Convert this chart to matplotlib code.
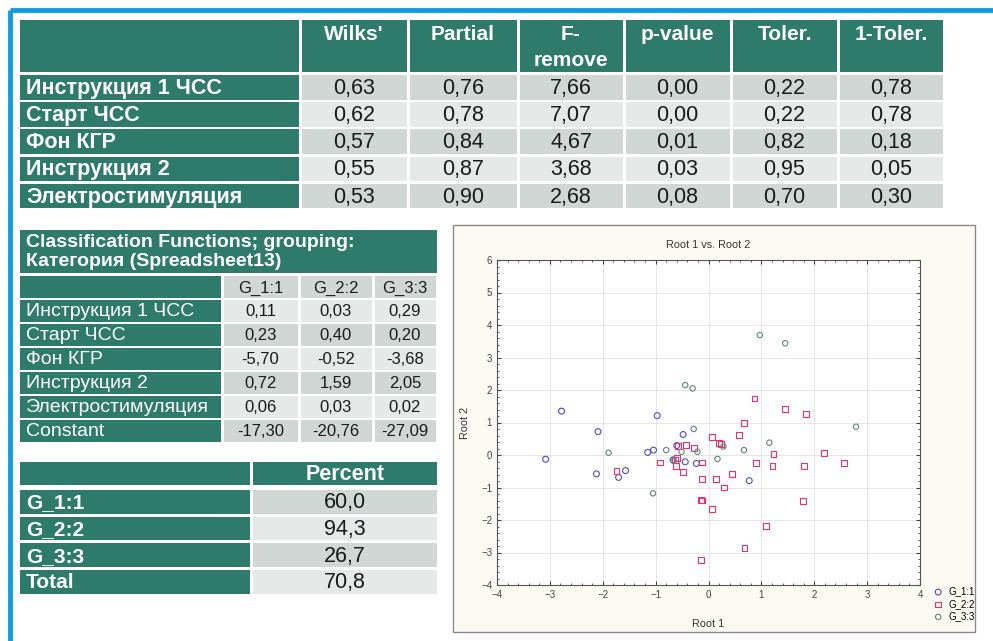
import matplotlib
matplotlib.use('Agg')
import matplotlib.pyplot as plt
from matplotlib.patches import Rectangle

plt.rcParams['font.family'] = ['Liberation Sans', 'DejaVu Sans']

# ---- data ----
t1_cols = ["Wilks'", "Partial", "F-\nremove", "p-value", "Toler.", "1-Toler."]
t1_rows = ["Инструкция 1 ЧСС", "Старт ЧСС", "Фон КГР", "Инструкция 2", "Электростимуляция"]
t1_vals = [["0,63", "0,76", "7,66", "0,00", "0,22", "0,78"],
           ["0,62", "0,78", "7,07", "0,00", "0,22", "0,78"],
           ["0,57", "0,84", "4,67", "0,01", "0,82", "0,18"],
           ["0,55", "0,87", "3,68", "0,03", "0,95", "0,05"],
           ["0,53", "0,90", "2,68", "0,08", "0,70", "0,30"]]

t2_title = "Classification Functions; grouping:\nКатегория (Spreadsheet13)"
t2_cols = ["G_1:1", "G_2:2", "G_3:3"]
t2_rows = ["Инструкция 1 ЧСС", "Старт ЧСС", "Фон КГР", "Инструкция 2", "Электростимуляция", "Constant"]
t2_vals = [["0,11", "0,03", "0,29"],
           ["0,23", "0,40", "0,20"],
           ["-5,70", "-0,52", "-3,68"],
           ["0,72", "1,59", "2,05"],
           ["0,06", "0,03", "0,02"],
           ["-17,30", "-20,76", "-27,09"]]

t3_col = "Percent"
t3_rows = ["G_1:1", "G_2:2", "G_3:3", "Total"]
t3_vals = ["60,0", "94,3", "26,7", "70,8"]

g1_x = [-2.78, -0.97, -2.09, -3.08, -2.12, -1.70, -1.57, -1.15, -1.04, -0.48, -0.44, -0.23, 0.77, -0.60, -0.67]
g1_y = [1.35, 1.21, 0.72, -0.13, -0.58, -0.69, -0.48, 0.08, 0.15, 0.63, -0.21, -0.26, -0.79, 0.29, -0.15]

g2_x = [-1.74, -0.92, -0.63, -0.61, -0.58, -0.43, -0.48, -0.28, -0.13, -0.12, -0.13, -0.14, 0.07, 0.07, 0.15,
        0.20, 0.23, 0.30, 0.87, 1.45, 1.84, 0.67, 0.57, 0.90, 1.21, 1.23, 1.81, 2.19, 2.57, 0.44, 1.78, 1.09,
        0.68, -0.14, -0.60]
g2_y = [-0.49, -0.23, -0.15, -0.33, 0.28, 0.31, -0.53, 0.22, -0.23, -0.75, -1.40, -3.23, 0.56, -1.67, -0.75,
        0.38, 0.33, -1.00, 1.74, 1.41, 1.26, 0.98, 0.62, -0.24, -0.33, 0.02, -0.34, 0.05, -0.24, -0.58, -1.42,
        -2.18, -2.85, -1.38, -0.10]

g3_x = [-0.44, -0.30, 0.97, 1.45, -1.89, -1.05, -0.80, -0.28, -0.51, -0.21, -0.66, 0.17, 2.79, 1.15, 0.67, 0.28]
g3_y = [2.15, 2.05, 3.69, 3.44, 0.07, -1.18, 0.15, 0.80, 0.10, 0.10, -0.18, -0.12, 0.87, 0.38, 0.15, 0.26]

# ---- style ----
TEAL = '#2e7b6c'
DARK = '#d1d7d5'
LIGHT = '#e5e9e8'
W, H = 993, 641

fig = plt.figure(figsize=(W / 100, H / 100), dpi=100)
fig.patch.set_facecolor('white')
ov = fig.add_axes([0, 0, 1, 1])
ov.set_xlim(0, W)
ov.set_ylim(H, 0)
ov.axis('off')


def cell(x0, x1, y0, y1, color, text='', tcolor='white', weight='bold', size=13,
         ha='center', va='center', ty=None, ls=1.05):
    ov.add_patch(Rectangle((x0, y0), x1 - x0, y1 - y0, facecolor=color, edgecolor='none'))
    if text:
        tx = x0 + 6 if ha == 'left' else (x0 + x1) / 2
        if ty is None:
            ty = (y0 + y1) / 2 + 1
        ov.text(tx, ty, text, color=tcolor, fontweight=weight, fontsize=size,
                ha=ha, va=va, linespacing=ls)


# blue frame
ov.plot([10, W], [10, 10], color='#139be0', lw=3.5, solid_capstyle='butt')
ov.plot([10, 10], [10, H], color='#139be0', lw=3.5, solid_capstyle='butt')

# ---- table 1 ----
xb = [20, 300, 408, 518, 624, 731, 838, 944]
g = 1.5
cell(xb[0], xb[1] - g, 20, 72, TEAL)
for j, c in enumerate(t1_cols):
    cell(xb[j + 1] + g, xb[j + 2] - g, 20, 72, TEAL, c, size=15, va='top', ty=25, ls=1.45)
for i, r in enumerate(t1_rows):
    y0 = 75 + i * 27.2
    y1 = y0 + 24.5
    cell(xb[0], xb[1] - g, y0, y1, TEAL, r, size=15.5, ha='left')
    bg = DARK if i % 2 == 0 else LIGHT
    for j, v in enumerate(t1_vals[i]):
        cell(xb[j + 1] + g, xb[j + 2] - g, y0, y1, bg, v, tcolor='#1a1a1a', weight='normal', size=15.5)

# ---- table 2 ----
cell(20, 437, 230, 273, TEAL, t2_title, size=14, ha='left', ty=252, ls=1.2)
xb2 = [20, 222, 299, 373, 437]
cell(xb2[0], xb2[1] - g, 276, 298, TEAL)
for j, c in enumerate(t2_cols):
    cell(xb2[j + 1] + g, xb2[j + 2] - g, 276, 298, DARK, c, tcolor='#1a1a1a', weight='normal', size=12)
for i, r in enumerate(t2_rows):
    y0 = 300 + i * 24
    y1 = y0 + 22
    cell(xb2[0], xb2[1] - g, y0, y1, TEAL, r, weight='normal', size=14, ha='left')
    bg = LIGHT if i % 2 == 0 else DARK
    for j, v in enumerate(t2_vals[i]):
        cell(xb2[j + 1] + g, xb2[j + 2] - g, y0, y1, bg, v, tcolor='#1a1a1a', weight='normal', size=12)

# ---- table 3 ----
cell(20, 250, 462, 485, TEAL)
cell(253, 437, 462, 485, TEAL, t3_col, size=15.5)
for i, r in enumerate(t3_rows):
    y0 = 490 + i * 26.7
    y1 = y0 + 23.5
    cell(20, 250, y0, y1, TEAL, r, size=15, ha='left')
    bg = DARK if i % 2 == 0 else LIGHT
    cell(253, 437, y0, y1, bg, t3_vals[i], tcolor='#1a1a1a', weight='normal', size=15.5)

# ---- scatter panel ----
ov.add_patch(Rectangle((453, 225), 522, 407, facecolor='#fcfaf2', edgecolor='#8a8a8a', lw=1))

ax = fig.add_axes([497 / W, 1 - 585 / H, 423 / W, 325 / H])
ax.set_facecolor('white')
ax.scatter(g1_x, g1_y, marker='o', s=18, facecolors='none', edgecolors='#4b4bd0', linewidths=0.8, label='G_1:1')
ax.scatter(g2_x, g2_y, marker='s', s=18, facecolors='none', edgecolors='#e8326a', linewidths=0.8, label='G_2:2')
ax.scatter(g3_x, g3_y, marker='o', s=15, facecolors='none', edgecolors='#5f8a72', linewidths=0.8, label='G_3:3')
ax.set_xlim(-4, 4)
ax.set_ylim(-4, 6)
ax.set_xticks(range(-4, 5))
ax.set_yticks(range(-4, 7))
ax.minorticks_on()
ax.tick_params(which='both', direction='in', labelsize=7, colors='#444444', top=True, right=True)
ax.tick_params(which='major', length=3)
ax.tick_params(which='minor', length=1.5)
ax.grid(True, which='major', color='#e2e2e2', lw=0.6)
ax.set_axisbelow(True)
for s in ax.spines.values():
    s.set_color('#555555')
    s.set_linewidth(0.8)
ax.set_title('Root 1 vs. Root 2', fontsize=7.8, color='#333333', pad=9)
ax.set_xlabel('Root 1', fontsize=7.8, color='#333333', labelpad=14)
ax.set_ylabel('Root 2', fontsize=7.8, color='#333333', labelpad=8)
ax.legend(loc='upper left', bbox_to_anchor=(1.02, 0.01), frameon=False, fontsize=7,
          handletextpad=0.6, borderpad=0, labelspacing=0.25, handlelength=1)

fig.savefig('out.png', dpi=100)
